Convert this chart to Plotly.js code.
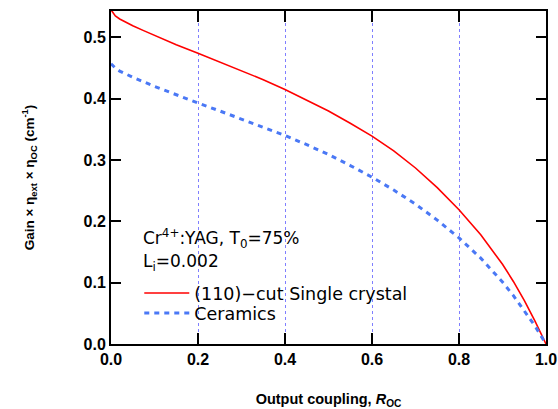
<!DOCTYPE html>
<html><head><meta charset="utf-8">
<script src="https://cdn.plot.ly/plotly-3.0.1.min.js"></script>
<style>html,body{margin:0;padding:0;background:#fff}#chart{width:558px;height:409px}</style>
</head><body><div id="chart"></div>
<script>
const xCrystal = [0, 0.005, 0.01, 0.02, 0.03, 0.05, 0.075, 0.1, 0.15, 0.2, 0.25, 0.3, 0.35, 0.4, 0.45, 0.5, 0.55, 0.6, 0.65, 0.7, 0.75, 0.8, 0.85, 0.9, 0.925, 0.95, 0.975, 0.99, 1.0];
const yCrystal = [0.545, 0.540, 0.535, 0.530, 0.526, 0.519, 0.511, 0.503, 0.488, 0.474, 0.460, 0.446, 0.431, 0.415, 0.398, 0.380, 0.360, 0.339, 0.315, 0.287, 0.255, 0.219, 0.178, 0.130, 0.102, 0.071, 0.037, 0.015, 0.0];
const xCeramics = [0, 0.01, 0.02, 0.05, 0.1, 0.15, 0.2, 0.25, 0.3, 0.35, 0.4, 0.45, 0.5, 0.55, 0.6, 0.65, 0.7, 0.75, 0.8, 0.85, 0.9, 0.925, 0.95, 0.975, 1.0];
const yCeramics = [0.457, 0.450, 0.445, 0.435, 0.420, 0.406, 0.393, 0.380, 0.367, 0.354, 0.340, 0.325, 0.309, 0.291, 0.272, 0.251, 0.228, 0.202, 0.173, 0.140, 0.101, 0.079, 0.055, 0.029, 0.0];
const seriesNames = ["(110)−cut Single crystal", "Ceramics"];
const xTicks = [0, 0.2, 0.4, 0.6, 0.8, 1.0];
const yTicks = [0, 0.1, 0.2, 0.3, 0.4, 0.5];

const data = [
  {x: xCrystal, y: yCrystal, type: 'scatter', mode: 'lines', name: seriesNames[0], legend: 'legend',
   line: {color: '#ff0000', width: 1.6, shape: 'linear'}},
  {x: xCeramics, y: yCeramics, type: 'scatter', mode: 'lines', name: seriesNames[1], legend: 'legend2',
   line: {color: '#4a78f5', width: 3, dash: '5px,5px', shape: 'linear'}}
];
const sans = 'Liberation Sans, Arial, sans-serif';
const wide = 'DejaVu Sans, sans-serif';
const legendBase = {xanchor: 'left', yanchor: 'middle', bgcolor: 'rgba(0,0,0,0)', itemwidth: 45,
  font: {family: wide, size: 17.5, color: '#000'}};
const layout = {
  width: 558, height: 409,
  margin: {l: 111, r: 12, t: 11, b: 65},
  paper_bgcolor: '#fff', plot_bgcolor: '#fff',
  showlegend: true,
  legend: Object.assign({x: 0.065, y: 0.153}, legendBase),
  legend2: Object.assign({x: 0.065, y: 0.093}, legendBase),
  xaxis: {range: [0, 1.0], tickvals: xTicks, tickformat: '.1f', ticks: 'inside', ticklen: 11, tickwidth: 2,
    tickcolor: '#000', mirror: 'ticks', showline: true, linewidth: 2, linecolor: '#000',
    showgrid: true, gridcolor: '#7f7fff', griddash: 'dot', gridwidth: 1, zeroline: false,
    tickfont: {family: sans, size: 16, color: '#000', weight: 'bold'},
    title: {text: '<b>Output coupling, <i>R</i><sub>OC</sub></b>', standoff: 28,
      font: {family: sans, size: 14.5, color: '#000'}}},
  yaxis: {range: [0, 0.543], tickvals: yTicks, tickformat: '.1f', ticks: 'inside', ticklen: 10, tickwidth: 2,
    tickcolor: '#000', mirror: 'ticks', showline: true, linewidth: 2, linecolor: '#000',
    showgrid: false, zeroline: false,
    tickfont: {family: sans, size: 16, color: '#000', weight: 'bold'},
    title: {text: '<b>Gain × η<sub>ext</sub> × η<sub>OC</sub> (cm<sup>-1</sup>)</b>', standoff: 46,
      font: {family: sans, size: 13.5, color: '#000'}}},
  annotations: [
    {xref: 'paper', yref: 'paper', x: 0.07, y: 0.318, xanchor: 'left', yanchor: 'middle', showarrow: false,
     text: 'Cr<sup>4+</sup>:YAG, T<sub>0</sub>=75%', font: {family: wide, size: 17, color: '#000'}},
    {xref: 'paper', yref: 'paper', x: 0.07, y: 0.245, xanchor: 'left', yanchor: 'middle', showarrow: false,
     text: 'L<sub>i</sub>=0.002', font: {family: wide, size: 17, color: '#000'}}
  ]
};
Plotly.newPlot('chart', data, layout, {displayModeBar: false, staticPlot: true});
</script></body></html>
